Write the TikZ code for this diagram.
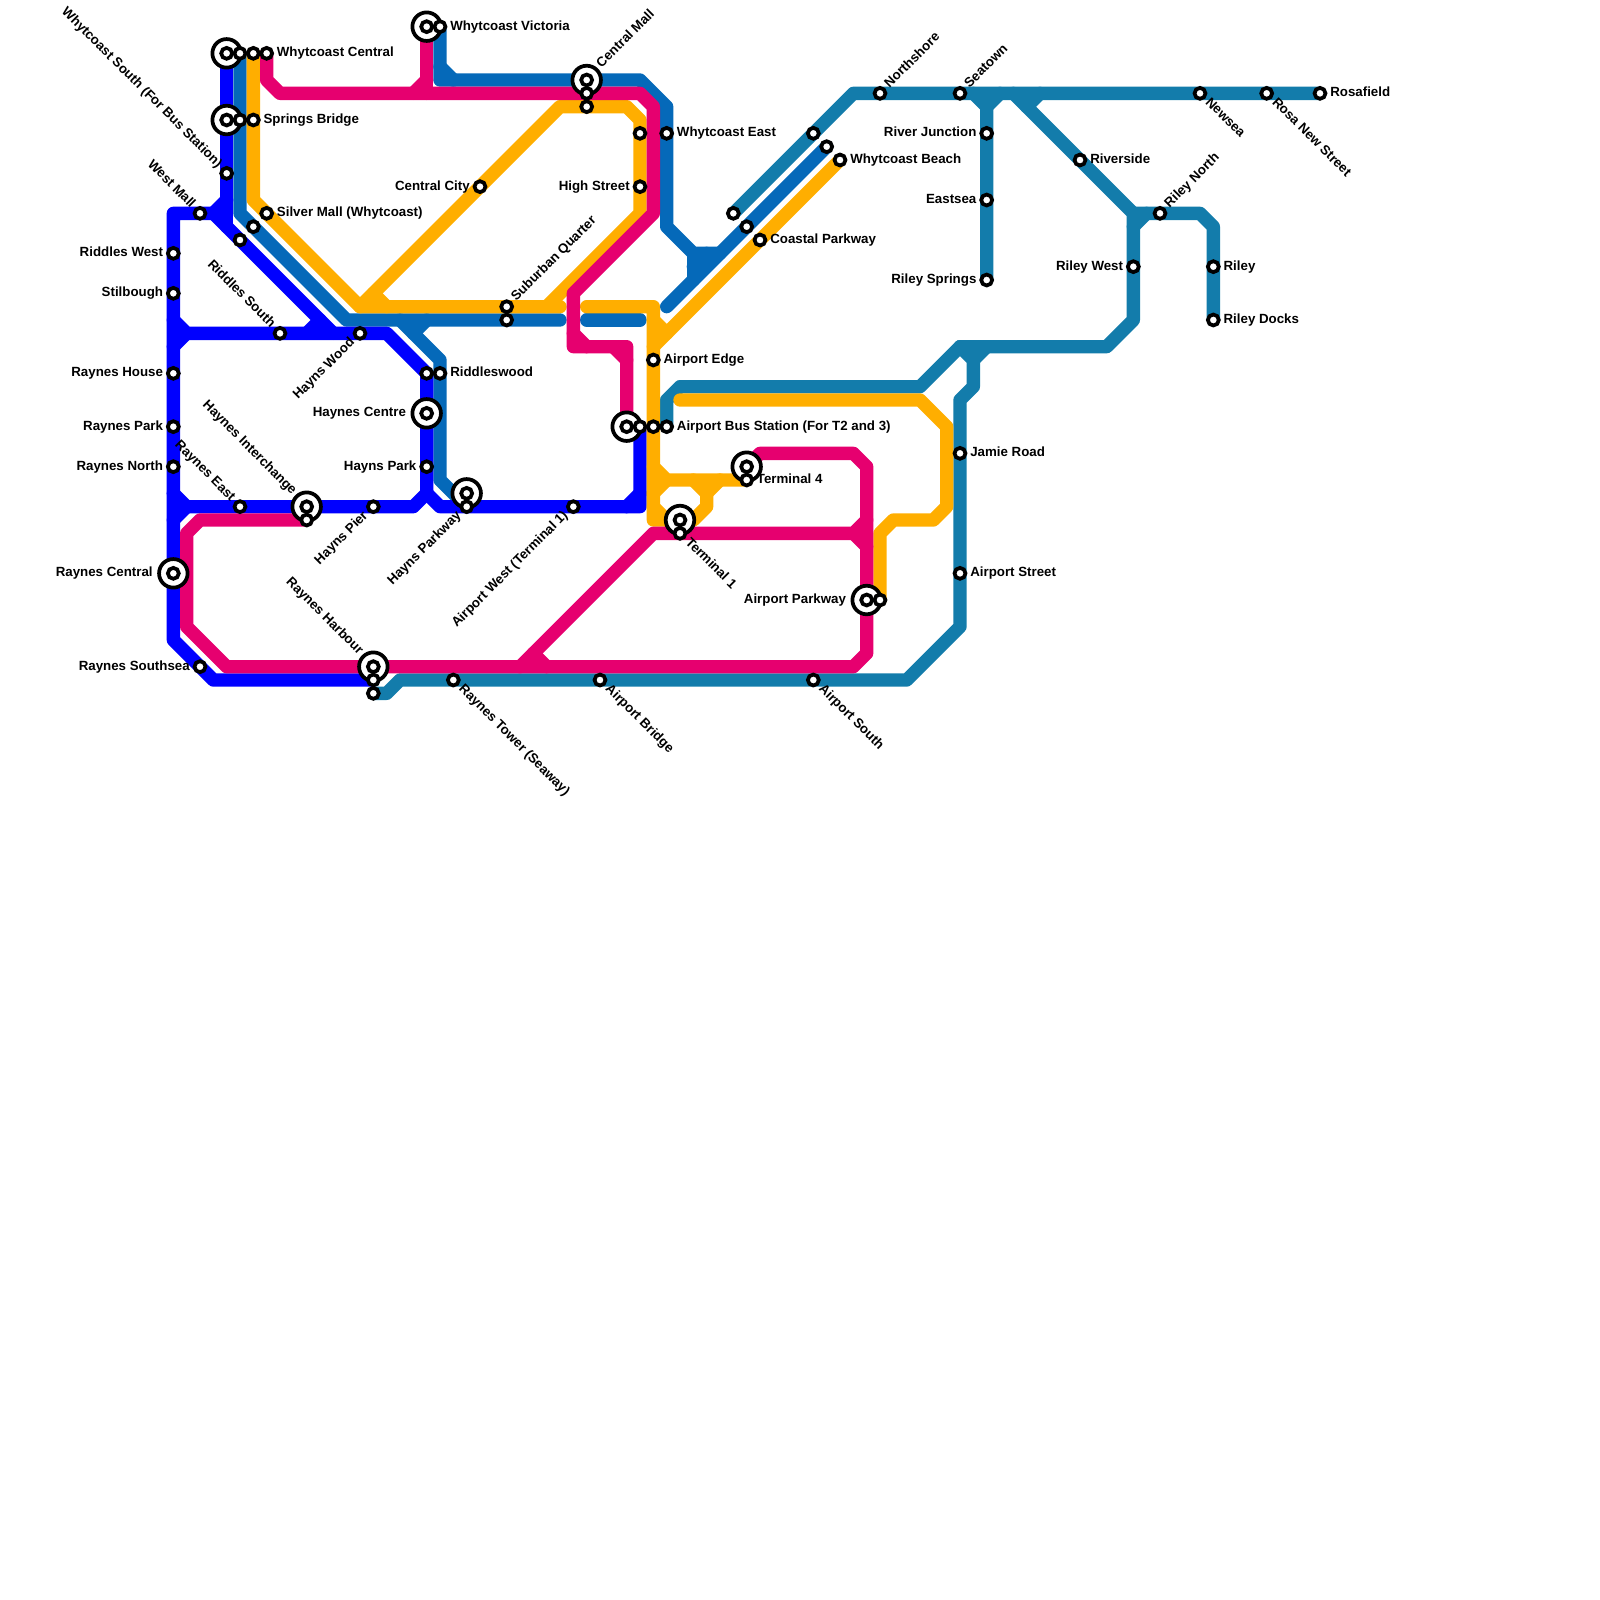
\documentclass[tikz,border=0pt]{standalone}
\usepackage{fontspec}
\setmainfont{Liberation Sans}
\definecolor{cblue}{HTML}{0000FF}
\definecolor{cdark}{HTML}{0569B9}
\definecolor{cteal}{HTML}{137CAB}
\definecolor{camber}{HTML}{FFAE00}
\definecolor{cpink}{HTML}{E6006F}
\tikzset{
 route/.style={line width=.5cm,line join=round,line cap=round},
 rblue/.style={route,draw=cblue}, rdark/.style={route,draw=cdark},
 rteal/.style={route,draw=cteal}, ramber/.style={route,draw=camber},
 rpink/.style={route,draw=cpink},
 halt/.style={circle,draw=black,fill=white,line width=.14cm,minimum size=.41cm,inner sep=0pt,outer sep=0pt},
 hub/.style={circle,draw=black,fill=white,line width=.14cm,minimum size=1.07cm,inner sep=0pt,outer sep=0pt},
 lab/.style={font=\bfseries\fontsize{14.2}{16}\selectfont,inner sep=0pt,outer sep=0pt,text height=.25cm,text depth=0pt,text=black},
}
\newcommand\tE[2]{\node[lab,anchor=west] (t#1) at ([shift={(.77,0)}]#1) {#2};}
\newcommand\tW[2]{\node[lab,anchor=east] (t#1) at ([shift={(-.77,0)}]#1) {#2};}
\newcommand\tWW[2]{\node[lab,anchor=east] (t#1) at ([shift={(-1.55,0)}]#1) {#2};}
\newcommand\tNE[2]{\node[lab,anchor=west,rotate=45] (t#1) at ([shift={(.55,-.55)}]#1) {#2};}
\newcommand\tSE[2]{\node[lab,anchor=west,rotate=-45] (t#1) at ([shift={(.55,.55)}]#1) {#2};}
\newcommand\tNW[2]{\node[lab,anchor=east,rotate=-45] (t#1) at ([shift={(-.55,-.55)}]#1) {#2};}
\newcommand\tSW[2]{\node[lab,anchor=east,rotate=45] (t#1) at ([shift={(-.55,.55)}]#1) {#2};}
\begin{document}
\begin{tikzpicture}[x=.5cm,y=-.5cm]
\useasboundingbox (0,0) rectangle (120,120);
% stations as coordinates
\foreach \n/\p in {wca/{17,4},wcb/{18,4},wcc/{19,4},wcd/{20,4},sba/{17,9},sbb/{18,9},sbc/{19,9},wso/{17,13},wma/{15,16},sma/{20,16},smb/{19,17},rso/{18,18},
 cci/{36,14},sua/{38,23},sub/{38,24},hwo/{27,25},rsd/{21,25},rwa/{32,28},rwb/{33,28},rwe/{13,19},sti/{13,22},rho/{13,28},
 wva/{32,2},wvb/{33,2},hce/{32,31},hpk/{32,35},rea/{18,38},hia/{23,38},hib/{23,39},hpi/{28,38},hpa/{35,37},hpb/{35,38},
 rpa/{13,32},rno/{13,35},rce/{13,43},rse/{15,50},rha/{28,50},rhb/{28,51},rhc/{28,52},rto/{34,51},awe/{43,38},
 aba/{47,32},abb/{48,32},abc/{49,32},abd/{50,32},cma/{44,6},cmb/{44,7},cmc/{44,8},wea/{48,10},web/{50,10},hst/{48,14},
 cpa/{55,16},cpb/{56,17},cpc/{57,18},wba/{61,10},wbb/{62,11},wbc/{63,12},nsh/{66,7},aed/{49,27},
 tfa/{56,35},tfb/{56,36},toa/{51,39},tob/{51,40},apa/{65,45},apb/{66,45},abr/{45,51},aso/{61,51},
 sea/{72,7},rju/{74,10},eas/{74,15},rsp/{74,21},rvs/{81,12},rln/{87,16},rlw/{85,20},ril/{91,20},rdo/{91,24},
 nwa/{90,7},rns/{95,7},rof/{99,7},jam/{72,34},ast/{72,43}}
 {\coordinate (\n) at (\p);}
% teal
\draw[rteal] (cpa) -- (64,7) -- (nsh) -- (sea) -- (nwa) -- (rns) -- (rof);
\draw[rteal] (73,7) -- (74,8) -- (rju) -- (eas) -- (rsp);
\draw[rteal] (75,7) -- (74,8);
\draw[rteal] (76,7) -- (rvs) -- (85,16) -- (rlw) -- (85,24) -- (83,26) -- (72,26) -- (69,29) -- (51,29) -- (50,30) -- (abd);
\draw[rteal] (78,7) -- (77,8);
\draw[rteal] (85,16) -- (rln) -- (90,16) -- (91,17) -- (ril) -- (rdo);
\draw[rteal] (86,16) -- (85,17);
\draw[rteal] (72,26) -- (73,27) -- (73,29) -- (72,30) -- (jam) -- (ast) -- (72,47) -- (68,51) -- (aso) -- (abr) -- (rto) -- (30,51) -- (29,52) -- (rhc);
\draw[rteal] (74,26) -- (73,27);
% dark blue
\draw[rdark] (wcb) -- (sbb) -- (18,16) -- (smb) -- (26,24) -- (sub) -- (42,24);
\draw[rdark] (44,24) -- (48,24);
\draw[rdark] (30,24) -- (33,27) -- (rwb) -- (33,36) -- (hpb);
\draw[rdark] (32,24) -- (31,25);
\draw[rdark] (wvb) -- (33,6) -- (48,6) -- (50,8) -- (web) -- (50,17) -- (52,19) -- (54,19);
\draw[rdark] (33,5) -- (34,6);
\draw[rdark] (52,19) -- (52,21);
\draw[rdark] (53,19) -- (52,20);
\draw[rdark] (50,23) -- (cpb) -- (wbb);
% blue
\draw[rblue] (16,16) -- (wma) -- (13,16) -- (rwe) -- (sti) -- (rho) -- (rpa) -- (rno) -- (rce) -- (13,48) -- (rse) -- (16,51) -- (rhb);
\draw[rblue] (17,15) -- (16,16) -- (rso) -- (25,25);
\draw[rblue] (wca) -- (sba) -- (wso) -- (17,17);
\draw[rblue] (13,24) -- (14,25) -- (rsd) -- (hwo) -- (29,25) -- (rwa) -- (hce) -- (hpk) -- (32,37) -- (31,38) -- (hpi) -- (hia) -- (rea) -- (14,38) -- (13,37);
\draw[rblue] (13,26) -- (14,25);
\draw[rblue] (13,39) -- (14,38);
\draw[rblue] (23,25) -- (24,24);
\draw[rblue] (32,37) -- (33,38) -- (hpb) -- (awe) -- (48,38) -- (abb);
\draw[rblue] (47,38) -- (48,37);
% amber
\draw[ramber] (wcc) -- (sbc) -- (19,15) -- (sma) -- (27,23) -- (sua) -- (42,23);
\draw[ramber] (41,23) -- (48,16) -- (hst) -- (wea) -- (48,9) -- (47,8) -- (cmc) -- (42,8) -- (cci) -- (27,23);
\draw[ramber] (28,22) -- (29,23);
\draw[ramber] (44,23) -- (49,23) -- (aed) -- (abc) -- (49,39) -- (52,39) -- (53,38) -- (53,37) -- (52,36);
\draw[ramber] (49,35) -- (50,36) -- (tfb);
\draw[ramber] (49,37) -- (50,36);
\draw[ramber] (49,38) -- (50,39);
\draw[ramber] (54,36) -- (53,37);
\draw[ramber] (49,26) -- (cpc) -- (wbc);
\draw[ramber] (49,24) -- (50,25);
\draw[ramber] (51,30) -- (69,30) -- (71,32) -- (71,38) -- (70,39) -- (67,39) -- (66,40) -- (apb);
% pink
\draw[rpink] (wcd) -- (20,6) -- (21,7) -- (cmb) -- (48,7) -- (49,8) -- (49,16) -- (43,22) -- (43,26) -- (47,26) -- (aba);
\draw[rpink] (43,25) -- (44,26);
\draw[rpink] (46,26) -- (47,27);
\draw[rpink] (wva) -- (32,7);
\draw[rpink] (32,6) -- (31,7);
\draw[rpink] (hib) -- (15,39) -- (14,40) -- (14,47) -- (17,50) -- (rha) -- (64,50) -- (65,49) -- (apa) -- (65,35) -- (64,34) -- (57,34) -- (tfa);
\draw[rpink] (39,50) -- (49,40) -- (tob) -- (64,40) -- (65,39);
\draw[rpink] (64,40) -- (65,41);
\draw[rpink] (40,49) -- (41,50);
% hubs
\foreach \n in {wca,sba,wva,cma,hce,hia,hpa,rce,rha,aba,toa,tfa,apa}
 {\node[hub] (big\n) at (\n) {};}
% halts
\foreach \n in {wca,wcb,wcc,wcd,sba,sbb,sbc,wso,wma,sma,smb,rso,cci,sua,sub,hwo,rsd,rwa,rwb,rwe,sti,rho,wva,wvb,hce,hpk,rea,hia,hib,hpi,hpa,hpb,rpa,rno,rce,rse,rha,rhb,rhc,rto,awe,aba,abb,abc,abd,cma,cmb,cmc,wea,web,hst,cpa,cpb,cpc,wba,wbb,wbc,nsh,aed,tfa,tfb,toa,tob,apa,apb,abr,aso,sea,rju,eas,rsp,rvs,rln,rlw,ril,rdo,nwa,rns,rof,jam,ast}
 {\node[halt] (s\n) at (\n) {};}
% labels
\tE{wvb}{Whytcoast Victoria}
\tE{wcd}{Whytcoast Central}
\tE{sbc}{Springs Bridge}
\tE{sma}{Silver Mall (Whytcoast)}
\tE{rwb}{Riddleswood}
\tE{web}{Whytcoast East}
\tE{wbc}{Whytcoast Beach}
\tE{cpc}{Coastal Parkway}
\tE{aed}{Airport Edge}
\tE{abd}{Airport Bus Station (For T2 and 3)}
\tE{tfb}{Terminal 4}
\tE{rvs}{Riverside}
\tE{jam}{Jamie Road}
\tE{ast}{Airport Street}
\tE{ril}{Riley}
\tE{rdo}{Riley Docks}
\tE{rof}{Rosafield}
\tW{cci}{Central City}
\tW{hst}{High Street}
\tW{rwe}{Riddles West}
\tW{sti}{Stilbough}
\tW{rho}{Raynes House}
\tW{rpa}{Raynes Park}
\tW{rno}{Raynes North}
\tWW{rce}{Raynes Central}
\tW{rse}{Raynes Southsea}
\tWW{hce}{Haynes Centre}
\tW{hpk}{Hayns Park}
\tWW{apa}{Airport Parkway}
\tW{rju}{River Junction}
\tW{eas}{Eastsea}
\tW{rsp}{Riley Springs}
\tW{rlw}{Riley West}
\tNE{sua}{Suburban Quarter}
\tNE{nsh}{Northshore}
\tNE{sea}{Seatown}
\tNE{rln}{Riley North}
\node[lab,anchor=west,rotate=45] (tcma) at ([shift={(.95,-1.05)}]cma) {Central Mall};
\tSE{rto}{Raynes Tower (Seaway)}
\tSE{abr}{Airport Bridge}
\tSE{aso}{Airport South}
\tSE{tob}{Terminal 1}
\tSE{nwa}{Newsea}
\tSE{rns}{Rosa New Street}
\tNW{wso}{Whytcoast South (For Bus Station)}
\tNW{wma}{West Mall}
\tNW{rsd}{Riddles South}
\tNW{rea}{Raynes East}
\node[lab,anchor=east,rotate=-45] (thia) at ([shift={(-.95,-1.05)}]hia) {Haynes Interchange};
\node[lab,anchor=east,rotate=-45] (trha) at ([shift={(-.95,-1.05)}]rha) {Raynes Harbour};
\tSW{hwo}{Hayns Wood}
\tSW{hpi}{Hayns Pier}
\tSW{hpb}{Hayns Parkway}
\tSW{awe}{Airport West (Terminal 1)}
\end{tikzpicture}
\end{document}
